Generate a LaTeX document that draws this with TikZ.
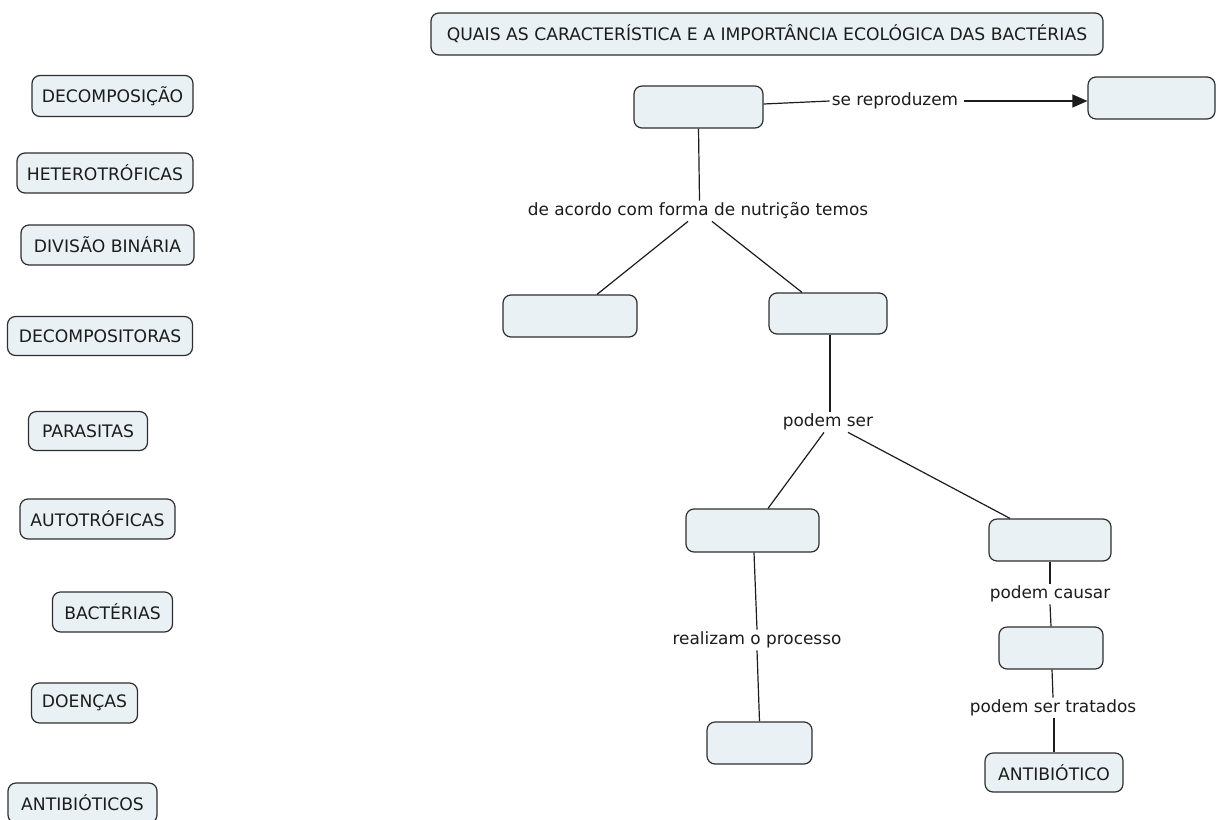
\documentclass[tikz,border=0pt]{standalone}
\usepackage{fontspec}
\setmainfont{DejaVu Sans}
\usetikzlibrary{arrows.meta}
\definecolor{boxfill}{HTML}{EAF1F4}
\definecolor{boxline}{HTML}{2E2E2E}
\definecolor{inkc}{HTML}{1C1C1C}
\tikzset{
  concept/.style={draw=boxline, fill=boxfill, line width=1.2pt, rounded corners=8pt,
    inner sep=0pt, text=inkc, font=\fontsize{17.2}{20}\selectfont},
  linklabel/.style={inner sep=2pt, text=inkc, font=\fontsize{16.9}{20}\selectfont},
  link/.style={draw=inkc, line width=1.2pt},
  arrowlink/.style={link, -{Triangle[length=15pt,width=13pt]}}
}
\begin{document}
\begin{tikzpicture}[x=1pt, y=-1pt]
\useasboundingbox (0,0) rectangle (1225,819);
\clip (0,0) rectangle (1225,819);

% title
\node[concept, minimum width=672pt, minimum height=42pt] (title) at (767,34)
  {QUAIS AS CARACTERÍSTICA E A IMPORTÂNCIA ECOLÓGICA DAS BACTÉRIAS};

% loose concepts on the left
\node[concept, minimum width=161pt, minimum height=41pt] (w1) at (112.5,96) {DECOMPOSIÇÃO};
\node[concept, minimum width=176pt, minimum height=40pt] (w2) at (105,173) {HETEROTRÓFICAS};
\node[concept, minimum width=173pt, minimum height=40pt] (w3) at (107.5,245) {DIVISÃO BINÁRIA};
\node[concept, minimum width=185pt, minimum height=39pt] (w4) at (100,336) {DECOMPOSITORAS};
\node[concept, minimum width=119pt, minimum height=39pt] (w5) at (88,431) {PARASITAS};
\node[concept, minimum width=155pt, minimum height=40pt] (w6) at (97.5,519) {AUTOTRÓFICAS};
\node[concept, minimum width=120pt, minimum height=40pt] (w7) at (112.5,612) {BACTÉRIAS};
\node[concept, minimum width=106pt, minimum height=40pt] (w8) at (84.5,703) {DOENÇAS};
\node[concept, minimum width=149pt, minimum height=40pt] (w9) at (82.5,803) {ANTIBIÓTICOS};

% concept map boxes
\node[concept, minimum width=129pt, minimum height=42pt] (A) at (698.5,107) {};
\node[concept, minimum width=127pt, minimum height=42pt] (B) at (1151.5,98) {};
\node[concept, minimum width=134pt, minimum height=42pt] (C) at (570,316) {};
\node[concept, minimum width=118pt, minimum height=41pt] (D) at (828,313.5) {};
\node[concept, minimum width=133pt, minimum height=43pt] (E) at (752.5,530.5) {};
\node[concept, minimum width=122pt, minimum height=42pt] (F) at (1050,540) {};
\node[concept, minimum width=105pt, minimum height=42pt] (G) at (759.5,743) {};
\node[concept, minimum width=104pt, minimum height=42pt] (H) at (1051,648) {};
\node[concept, minimum width=138pt, minimum height=39pt] (I) at (1054,772.5) {ANTIBIÓTICO};

% linking phrases
\node[linklabel] (sr) at (895,101) {se reproduzem};
\node[linklabel] (nut) at (698,211) {de acordo com forma de nutrição temos};
\node[linklabel] (ps) at (828,422) {podem ser};
\node[linklabel] (rp) at (757,640) {realizam o processo};
\node[linklabel] (pc) at (1050,594) {podem causar};
\node[linklabel] (pt) at (1053,708) {podem ser tratados};

% connectors
\draw[link] ([yshift=3pt]A.east) -- (sr.west);
\draw[arrowlink] ([xshift=4pt]sr.east) -- ([yshift=-3pt]B.west);

\draw[link] (A.south) -- ([xshift=1.5pt]nut.north);
\draw[link] ([xshift=-10pt]nut.south) -- ([xshift=27pt]C.north);
\draw[link] ([xshift=14pt]nut.south) -- ([xshift=-26pt]D.north);

\draw[link] ([xshift=2pt]D.south) -- ([xshift=2pt]ps.north);
\draw[link] ([xshift=-4pt]ps.south) -- ([xshift=15.5pt]E.north);
\draw[link] ([xshift=20pt]ps.south) -- ([xshift=-40pt]F.north);

\draw[link] ([xshift=1.5pt]E.south) -- (rp.north);
\draw[link] (rp.south) -- (G.north);

\draw[link] (F.south) -- (pc.north);
\draw[link] (pc.south) -- (H.north);
\draw[link] ([xshift=1pt]H.south) -- (pt.north);
\draw[link] ([xshift=1pt]pt.south) -- (I.north);
\end{tikzpicture}
\end{document}
